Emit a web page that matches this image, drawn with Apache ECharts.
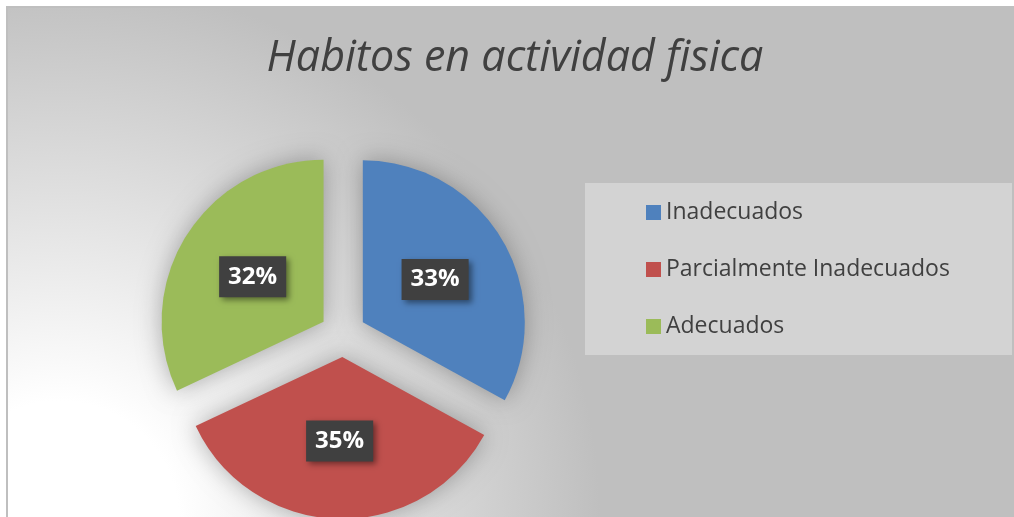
<!DOCTYPE html>
<html>
<head>
<meta charset="utf-8">
<script src="https://cdn.jsdelivr.net/npm/echarts@6/dist/echarts.min.js"></script>
<style>
  html, body { margin: 0; padding: 0; background: #fff; }
  #chart { width: 1014px; height: 517px; }
</style>
</head>
<body>
<div id="chart"></div>
<script>
const categories = ['Inadecuados', 'Parcialmente Inadecuados', 'Adecuados']
const percents = [33, 35, 32]
const colors = ['#4F81BD', '#C0504D', '#9BBB59']

const chart = echarts.init(document.getElementById('chart'))

const option = {
  animation: false,
  graphic: [
    {
      type: 'rect',
      z: -10,
      shape: { x: 7, y: 7, width: 1030, height: 540 },
      style: {
        fill: new echarts.graphic.RadialGradient(60, 520, 540, [
          { offset: 0, color: '#ffffff' },
          { offset: 0.22, color: '#ffffff' },
          { offset: 1, color: '#bfbfbf' }
        ], true),
        stroke: '#bfbfbf',
        lineWidth: 2
      },
      silent: true
    },
    {
      type: 'rect',
      z: -5,
      shape: { x: 585, y: 183, width: 427, height: 172 },
      style: { fill: '#d3d3d3' },
      silent: true
    }
  ],
  title: {
    text: 'Habitos en actividad fisica',
    left: 515,
    top: 37,
    padding: 0,
    textAlign: 'center',
    textStyle: {
      fontFamily: 'Open Sans',
      fontStyle: 'italic',
      fontWeight: 'normal',
      fontSize: 43,
      color: '#404040'
    }
  },
  legend: {
    orient: 'vertical',
    left: 646,
    top: 201,
    padding: 0,
    itemWidth: 15,
    itemHeight: 15,
    itemGap: 34,
    icon: 'rect',
    selectedMode: false,
    data: categories,
    textStyle: {
      fontFamily: 'Open Sans',
      fontSize: 23,
      lineHeight: 23,
      color: '#404040'
    }
  },
  series: [
    {
      type: 'pie',
      center: [343, 334],
      radius: 162,
      startAngle: 90,
      clockwise: true,
      selectedMode: 'multiple',
      selectedOffset: 23,
      emphasis: { disabled: true },
      itemStyle: {
        shadowBlur: 25,
        shadowColor: 'rgba(0, 0, 0, 0.3)'
      },
      label: {
        show: true,
        position: 'inside',
        formatter: p => p.value + '%',
        fontFamily: 'Open Sans',
        fontWeight: 'bold',
        fontSize: 24,
        lineHeight: 25,
        color: '#ffffff',
        backgroundColor: '#404040',
        padding: [8, 9],
        shadowBlur: 6,
        shadowOffsetX: 3,
        shadowOffsetY: 3,
        shadowColor: 'rgba(0, 0, 0, 0.45)'
      },
      labelLine: { show: false },
      data: categories.map((name, i) => ({
        name: name,
        value: percents[i],
        selected: true,
        itemStyle: { color: colors[i] }
      }))
    }
  ]
}

chart.setOption(option)
</script>
</body>
</html>
